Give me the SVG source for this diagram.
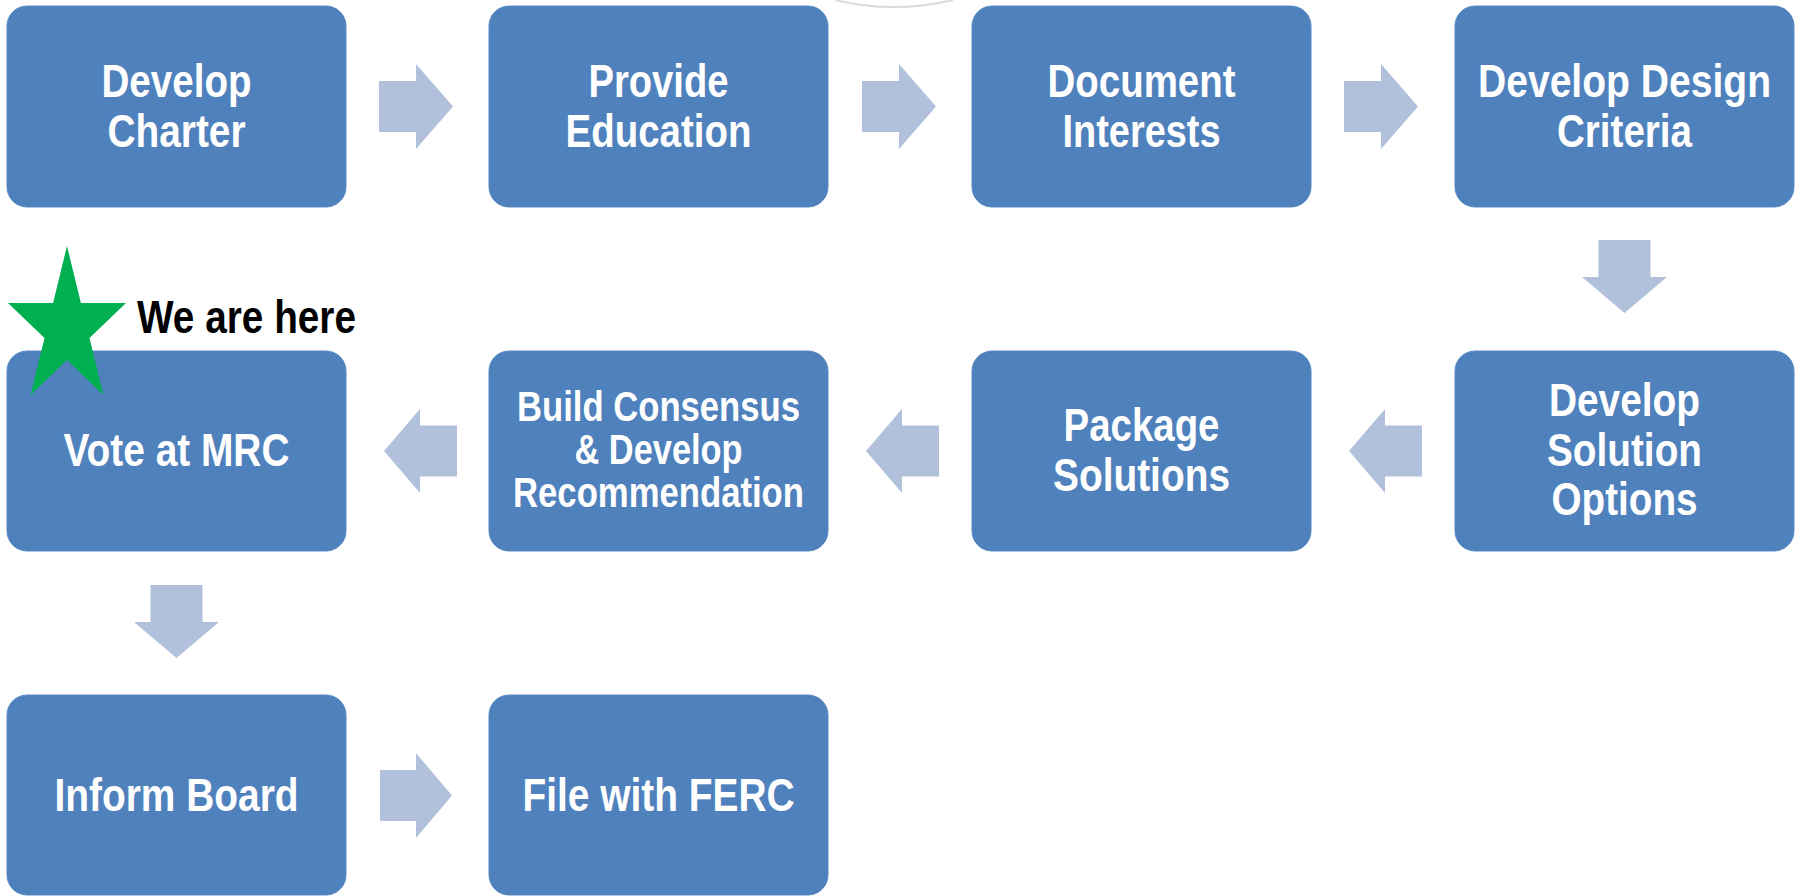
<svg xmlns="http://www.w3.org/2000/svg" width="1800" height="896" viewBox="0 0 1800 896">
  <style>
    .box { fill: #4F81BD; stroke: #5A8AC4; stroke-width: 1; }
    .lbl { fill: #FFFFFF; font-family: "Liberation Sans Narrow", "Arial Narrow", "Liberation Sans", Arial, sans-serif; font-weight: bold; font-size: 47px; text-anchor: middle; }
    .sm { font-size: 42px; }
    .arrow { fill: #B2C1DB; }
    .note { fill: #000000; font-family: "Liberation Sans Narrow", "Arial Narrow", "Liberation Sans", Arial, sans-serif; font-weight: bold; font-size: 47px; }
  </style>
  <rect x="0" y="0" width="1800" height="896" fill="#FFFFFF"/>
  <path d="M835,0 A252,252 0 0 0 953,0" fill="none" stroke="#DADADA" stroke-width="2"/>

  <g id="connectors">
    <path class="arrow" d="M379,81 H416 V64 L453,106.5 L416,149 V132 H379 Z"/>
    <path class="arrow" d="M862,81 H899 V64 L936,106.5 L899,149 V132 H862 Z"/>
    <path class="arrow" d="M1344,81 H1381 V64 L1418,106.5 L1381,149 V132 H1344 Z"/>
    <path class="arrow" d="M1598.5,240 H1650.5 V277 H1667 L1624.5,313 L1582,277 H1598.5 Z"/>
    <path class="arrow" d="M1422,425.5 H1385 V409 L1349,451 L1385,493 V476.5 H1422 Z"/>
    <path class="arrow" d="M939,425.5 H902 V409 L866,451 L902,493 V476.5 H939 Z"/>
    <path class="arrow" d="M457,425.5 H420 V409 L384,451 L420,493 V476.5 H457 Z"/>
    <path class="arrow" d="M150.5,585 H202.5 V622 H219 L176.5,658 L134,622 H150.5 Z"/>
    <path class="arrow" d="M380,770 H416 V753 L452,795.5 L416,838 V821 H380 Z"/>
  </g>

  <g id="node-develop-charter">
    <rect class="box" x="7" y="6" width="339" height="201" rx="20"/>
    <text class="lbl" x="176.5" y="97" textLength="150" lengthAdjust="spacingAndGlyphs">Develop</text>
    <text class="lbl" x="176.5" y="147" textLength="138" lengthAdjust="spacingAndGlyphs">Charter</text>
  </g>
  <g id="node-provide-education">
    <rect class="box" x="489" y="6" width="339" height="201" rx="20"/>
    <text class="lbl" x="658.5" y="97" textLength="140" lengthAdjust="spacingAndGlyphs">Provide</text>
    <text class="lbl" x="658.5" y="147" textLength="186" lengthAdjust="spacingAndGlyphs">Education</text>
  </g>
  <g id="node-document-interests">
    <rect class="box" x="972" y="6" width="339" height="201" rx="20"/>
    <text class="lbl" x="1141.5" y="97" textLength="188" lengthAdjust="spacingAndGlyphs">Document</text>
    <text class="lbl" x="1141.5" y="147" textLength="158" lengthAdjust="spacingAndGlyphs">Interests</text>
  </g>
  <g id="node-develop-design-criteria">
    <rect class="box" x="1455" y="6" width="339" height="201" rx="20"/>
    <text class="lbl" x="1624.5" y="97" textLength="293" lengthAdjust="spacingAndGlyphs">Develop Design</text>
    <text class="lbl" x="1624.5" y="147" textLength="135" lengthAdjust="spacingAndGlyphs">Criteria</text>
  </g>
  <g id="node-develop-solution-options">
    <rect class="box" x="1455" y="351" width="339" height="200" rx="20"/>
    <text class="lbl" x="1624.5" y="416" textLength="151" lengthAdjust="spacingAndGlyphs">Develop</text>
    <text class="lbl" x="1624.5" y="466" textLength="155" lengthAdjust="spacingAndGlyphs">Solution</text>
    <text class="lbl" x="1624.5" y="515" textLength="146" lengthAdjust="spacingAndGlyphs">Options</text>
  </g>
  <g id="node-package-solutions">
    <rect class="box" x="972" y="351" width="339" height="200" rx="20"/>
    <text class="lbl" x="1141.5" y="441" textLength="156" lengthAdjust="spacingAndGlyphs">Package</text>
    <text class="lbl" x="1141.5" y="491" textLength="177" lengthAdjust="spacingAndGlyphs">Solutions</text>
  </g>
  <g id="node-build-consensus">
    <rect class="box" x="489" y="351" width="339" height="200" rx="20"/>
    <text class="lbl sm" x="658.5" y="421" textLength="283" lengthAdjust="spacingAndGlyphs">Build Consensus</text>
    <text class="lbl sm" x="658.5" y="464" textLength="168" lengthAdjust="spacingAndGlyphs">&amp; Develop</text>
    <text class="lbl sm" x="658.5" y="507" textLength="291" lengthAdjust="spacingAndGlyphs">Recommendation</text>
  </g>
  <g id="node-vote-at-mrc">
    <rect class="box" x="7" y="351" width="339" height="200" rx="20"/>
    <text class="lbl" x="176.5" y="466" textLength="226" lengthAdjust="spacingAndGlyphs">Vote at MRC</text>
  </g>
  <g id="node-inform-board">
    <rect class="box" x="7" y="695" width="339" height="200" rx="20"/>
    <text class="lbl" x="176.5" y="811" textLength="244" lengthAdjust="spacingAndGlyphs">Inform Board</text>
  </g>
  <g id="node-file-with-ferc">
    <rect class="box" x="489" y="695" width="339" height="200" rx="20"/>
    <text class="lbl" x="658.5" y="811" textLength="272" lengthAdjust="spacingAndGlyphs">File with FERC</text>
  </g>

  <g id="we-are-here">
    <polygon fill="#00B050" points="67,246 80.9,302.9 126,302.9 89.5,338.1 103.4,395.1 67,359.9 30.6,395.1 44.5,338.1 8,302.9 53.1,302.9"/>
    <text class="note" x="137" y="333" textLength="219" lengthAdjust="spacingAndGlyphs">We are here</text>
  </g>
</svg>
